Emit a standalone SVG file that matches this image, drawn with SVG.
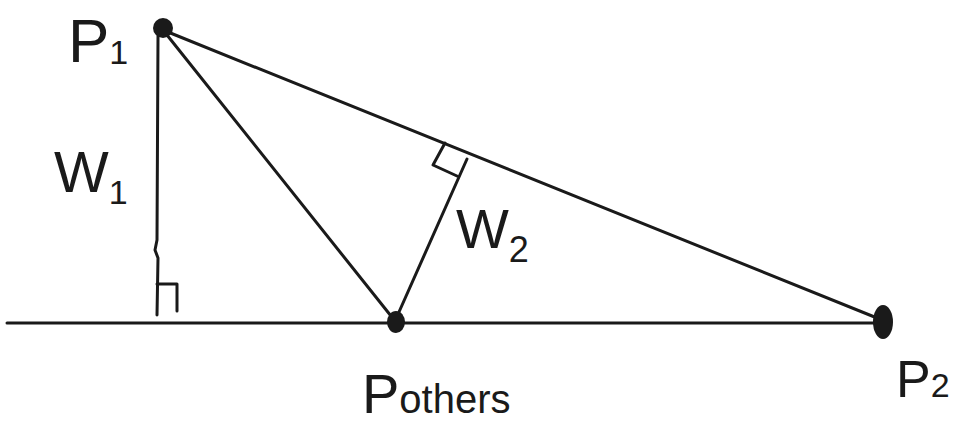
<svg xmlns="http://www.w3.org/2000/svg" width="956" height="425" viewBox="0 0 956 425">
<style>
.ln{stroke:#1a1a1a;stroke-width:3;fill:none;stroke-linecap:round;stroke-linejoin:round}
.dot{fill:#1a1a1a}
.lbl{font-family:"Liberation Sans","DejaVu Sans",sans-serif;fill:#1a1a1a}
</style>
<rect width="956" height="425" fill="#ffffff"/>
<g id="connectors">
<path class="ln" d="M7,323 L882,323"/>
<path class="ln" d="M158,36 L157,240 L155,250 L158,258 L157,315"/>
<path class="ln" d="M157,284 L177,284 L177,311"/>
<path class="ln" d="M163,30 L395,321"/>
<path class="ln" d="M163,30 L882,320"/>
<path class="ln" d="M395,321 L467,159"/>
<path class="ln" d="M445,143 L433,165 L457,176"/>
</g>
<g id="P1">
<circle class="dot" cx="163" cy="28" r="10"/>
<text class="lbl" x="68" y="62" font-size="62">P<tspan font-size="34" dy="2">1</tspan></text>
</g>
<g id="W1">
<text class="lbl" x="54" y="192" font-size="58">W<tspan font-size="34" dy="12">1</tspan></text>
</g>
<g id="W2">
<text class="lbl" x="456" y="248" font-size="56">W<tspan font-size="36" dy="14">2</tspan></text>
</g>
<g id="Pothers">
<ellipse class="dot" cx="396" cy="322" rx="9" ry="11"/>
<text class="lbl" x="362" y="413" font-size="56">P<tspan font-size="40">others</tspan></text>
</g>
<g id="P2">
<ellipse class="dot" cx="883" cy="322" rx="10" ry="17"/>
<text class="lbl" x="896" y="397" font-size="52">P<tspan font-size="34">2</tspan></text>
</g>
</svg>
